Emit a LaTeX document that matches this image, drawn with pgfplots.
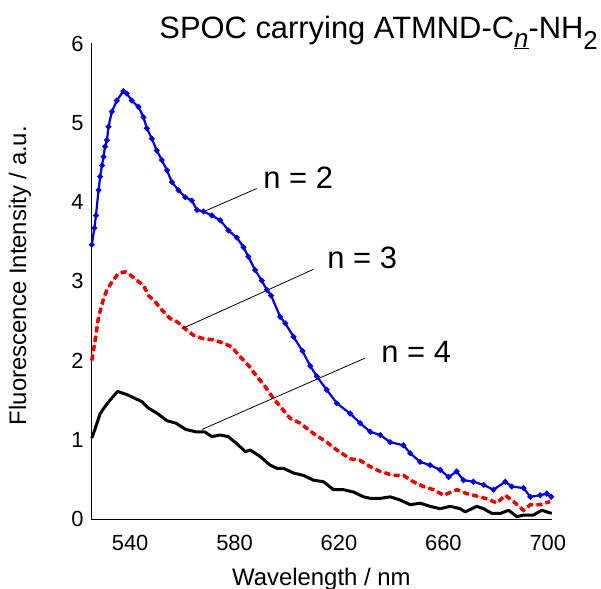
\documentclass[border=0pt]{standalone}
\usepackage{pgfplots}
\pgfplotsset{compat=1.18}
\usepackage{pgfplotstable}
\usepackage{fontspec}
\setmainfont{Liberation Sans}

\pgfplotstableread{
x y
525.3 3.46
526.3 3.67
526.9 3.83
527.9 4.15
528.5 4.32
529.2 4.46
529.8 4.57
530.4 4.70
531.1 4.78
531.7 4.95
533.0 5.14
534.9 5.28
537.4 5.40
538.7 5.37
540.6 5.28
543.2 5.20
545.1 5.07
546.4 4.93
548.3 4.80
550.2 4.65
552.1 4.53
554.1 4.40
556.0 4.25
558.5 4.15
561.1 4.06
563.6 4.02
565.6 3.90
568.1 3.88
571.3 3.83
574.5 3.77
577.7 3.64
580.9 3.55
583.4 3.43
585.3 3.31
587.9 3.14
590.4 3.01
592.4 2.89
594.0 2.82
597.5 2.55
599.4 2.47
602.6 2.30
606.0 2.12
609.0 1.93
611.5 1.80
615.3 1.63
619.2 1.46
624.3 1.33
628.1 1.21
632.0 1.10
635.8 1.06
639.6 0.97
644.7 0.93
647.3 0.83
651.1 0.72
654.9 0.68
658.8 0.62
662.0 0.53
665.1 0.60
667.7 0.49
671.5 0.47
675.4 0.43
679.2 0.37
683.7 0.47
686.2 0.41
690.7 0.39
693.3 0.28
697.1 0.30
699.6 0.32
701.3 0.28
}\ntwo

\pgfplotstableread{
x y
525.3 2.00
526.6 2.26
527.9 2.55
529.8 2.78
531.1 2.89
533.0 2.99
535.5 3.10
538.1 3.12
540.0 3.08
542.6 3.01
545.1 2.95
547.0 2.82
549.6 2.74
552.1 2.64
555.3 2.53
557.9 2.49
561.1 2.40
564.2 2.32
567.5 2.28
571.9 2.26
575.7 2.22
579.0 2.17
581.5 2.07
585.3 1.94
588.5 1.80
591.1 1.70
594.9 1.52
597.5 1.42
601.3 1.27
605.1 1.21
610.2 1.08
615.3 0.97
619.2 0.87
624.3 0.76
628.1 0.74
632.0 0.66
635.8 0.60
640.9 0.55
644.7 0.55
648.5 0.47
652.4 0.41
656.2 0.37
660.1 0.30
665.2 0.37
669.0 0.32
674.1 0.28
677.9 0.24
680.5 0.20
683.7 0.30
686.9 0.22
690.7 0.11
693.3 0.18
697.1 0.18
700.9 0.22
}\nthree

\pgfplotstableread{
x y
525.3 1.02
526.6 1.14
528.5 1.33
530.4 1.42
532.3 1.50
535.2 1.61
538.7 1.57
542.0 1.52
544.5 1.48
547.0 1.40
550.5 1.33
554.1 1.24
557.5 1.21
561.3 1.13
565.2 1.10
568.5 1.10
571.3 1.04
574.5 1.06
577.5 1.04
580.9 0.95
584.1 0.85
586.0 0.87
589.8 0.79
593.6 0.68
596.2 0.64
598.7 0.64
602.6 0.58
606.4 0.55
610.2 0.49
614.1 0.47
617.9 0.37
621.7 0.37
625.6 0.34
629.4 0.28
632.0 0.26
635.8 0.26
639.6 0.28
643.4 0.24
647.3 0.18
651.1 0.20
654.9 0.16
658.8 0.13
662.6 0.16
666.4 0.13
668.4 0.09
672.8 0.16
675.4 0.13
678.6 0.07
681.8 0.07
685.0 0.11
688.2 0.03
690.7 0.05
694.5 0.05
697.7 0.11
701.5 0.07
}\nfour

\definecolor{myblue}{RGB}{0,0,220}
\definecolor{myred}{RGB}{230,0,0}
\definecolor{mypink}{RGB}{245,170,170}

\begin{document}
\begin{tikzpicture}
\useasboundingbox (0,0) rectangle (601bp,589bp);
\begin{axis}[
  at={(91bp,70bp)}, anchor=south west,
  scale only axis,
  width=460.7bp, height=475.5bp,
  xmin=525, xmax=701.5, ymin=0, ymax=6,
  axis x line=bottom, axis y line=left,
  axis line style={-, line width=0.8bp},
  xtick={540,580,620,660,700},
  ytick={0,1,2,3,4,5,6},
  major tick length=0pt,
  /pgf/number format/assume math mode=true,
  tick label style={font=\fontsize{22}{25}\selectfont},
  xticklabel style={yshift=-13bp},
  yticklabel style={xshift=-4bp},
  xlabel={Wavelength / nm},
  ylabel={Fluorescence Intensity / a.u.},
  label style={font=\fontsize{24}{28}\selectfont},
  xlabel style={at={(axis description cs:0.5,-0.139)}, anchor=base},
  ylabel style={at={(axis description cs:-0.154,0.512)}, anchor=center, rotate=0},
  clip=false,
]
\addplot[myblue, line width=2.2bp, mark=*, mark size=1.6bp] table[x=x,y=y] {\ntwo};
\addplot[mypink, line width=0.8bp] table[x=x,y=y] {\nthree};
\addplot[myred, line width=3.5bp, dash pattern=on 6bp off 3.5bp] table[x=x,y=y] {\nthree};
\addplot[black, line width=3bp, line join=round] table[x=x,y=y] {\nfour};

\draw[black, line width=0.8bp] (axis cs:568.3,3.88) -- (axis cs:588.5,4.17);
\draw[black, line width=0.8bp] (axis cs:559.8,2.40) -- (axis cs:610.2,3.15);
\draw[black, line width=0.8bp] (axis cs:567.5,1.13) -- (axis cs:630.0,2.03);
\node[anchor=base west, inner sep=0pt, font=\fontsize{31}{36}\selectfont] at (axis cs:591,4.17) {n = 2};
\node[anchor=base west, inner sep=0pt, font=\fontsize{31}{36}\selectfont] at (axis cs:615.5,3.16) {n = 3};
\node[anchor=base west, inner sep=0pt, font=\fontsize{31}{36}\selectfont] at (axis cs:636.2,1.98) {n = 4};
\end{axis}
\node[anchor=base east, inner sep=0pt, font=\fontsize{31}{36}\selectfont] at (598bp,550.7bp)
  {SPOC carrying ATMND-C\raisebox{-9bp}{\fontsize{26}{28}\selectfont\underline{\textit{n}}}-NH\raisebox{-11bp}{\fontsize{26}{28}\selectfont 2}};
\end{tikzpicture}
\end{document}
